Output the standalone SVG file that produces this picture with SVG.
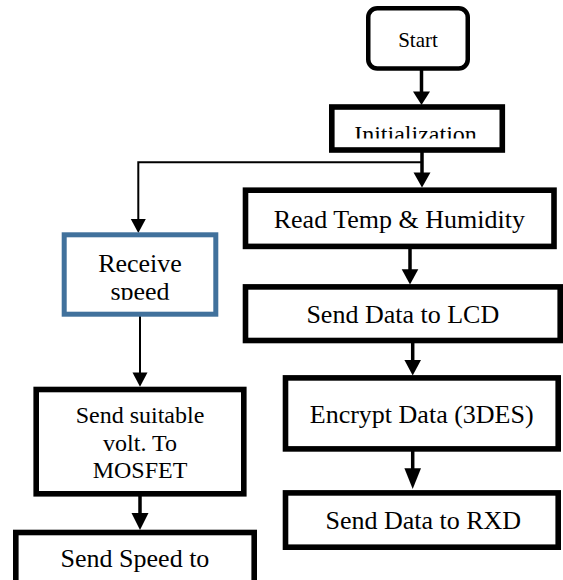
<svg xmlns="http://www.w3.org/2000/svg" width="563" height="580" viewBox="0 0 563 580">
  <style>
    .box { fill: #ffffff; stroke: #000000; stroke-width: 5.6; }
    .round { fill: #ffffff; stroke: #000000; stroke-width: 4.5; }
    .blue { fill: #ffffff; stroke: #41719C; stroke-width: 5; }
    .lbl { font-family: "Liberation Serif", "Times New Roman", serif; font-size: 26px; fill: #000000; text-anchor: middle; }
    .small { font-size: 24px; }
    .start { font-size: 21px; }
    .thick { fill: none; stroke: #000000; stroke-width: 3.5; }
    .thin { fill: none; stroke: #000000; stroke-width: 2; }
    .head { fill: #000000; stroke: none; }
  </style>
  <defs>
    <clipPath id="clipInit"><rect x="331" y="108" width="172" height="30.5"/></clipPath>
    <clipPath id="clipRecv"><rect x="64" y="235" width="152" height="64.7"/></clipPath>
  </defs>

  <!-- connectors -->
  <g id="connectors">
    <line class="thick" x1="421.5" y1="70" x2="421.5" y2="92"/>
    <polygon class="head" points="413,91.5 430,91.5 421.5,105"/>

    <line class="thick" x1="422" y1="152" x2="422" y2="173"/>
    <polygon class="head" points="413.5,172.5 430.5,172.5 422,187.5"/>

    <polyline class="thin" points="422,162.3 138.3,162.3 138.3,220"/>
    <polygon class="head" points="130.8,219 145.8,219 138.3,233"/>

    <line class="thick" x1="410" y1="249" x2="410" y2="270"/>
    <polygon class="head" points="401.7,269.3 418.3,269.3 410,284.5"/>

    <line class="thick" x1="412.7" y1="343" x2="412.7" y2="361"/>
    <polygon class="head" points="404.4,360 421,360 412.7,375.5"/>

    <line class="thick" x1="412.7" y1="451" x2="412.7" y2="469"/>
    <polygon class="head" points="404.4,468.3 421,468.3 412.7,489"/>

    <line class="thin" x1="140" y1="316" x2="140" y2="373"/>
    <polygon class="head" points="132.5,372.5 147.5,372.5 140,386.7"/>

    <line class="thick" x1="140" y1="496" x2="140" y2="514"/>
    <polygon class="head" points="131.5,513 148.5,513 140,530"/>
  </g>

  <!-- start terminal -->
  <g id="start">
    <rect class="round" x="368.25" y="8.25" width="99.5" height="60.2" rx="9" ry="9"/>
    <text class="lbl start" x="418" y="46.5">Start</text>
  </g>

  <!-- initialisation -->
  <g id="init">
    <rect class="box" x="331.8" y="107" width="170.5" height="43"/>
    <text class="lbl small" x="415.5" y="141.5" clip-path="url(#clipInit)">Initialization</text>
  </g>

  <!-- sensor branch -->
  <g id="readTemp">
    <rect class="box" x="245.5" y="190.2" width="308.5" height="56.2"/>
    <text class="lbl" x="399.3" y="228.3">Read Temp &amp; Humidity</text>
  </g>

  <g id="sendLcd">
    <rect class="box" x="245.5" y="286.9" width="314.7" height="53.6"/>
    <text class="lbl" x="402.8" y="322.7">Send Data to LCD</text>
  </g>

  <g id="encrypt">
    <rect class="box" x="285.5" y="377.9" width="272.7" height="71"/>
    <text class="lbl" x="421.7" y="423.3">Encrypt Data (3DES)</text>
  </g>

  <g id="sendRxd">
    <rect class="box" x="285.5" y="492.9" width="272.7" height="54.3"/>
    <text class="lbl" x="423.3" y="529.3">Send Data to RXD</text>
  </g>

  <!-- motor branch -->
  <g id="receive">
    <rect class="blue" x="64.2" y="234.8" width="151.6" height="79.4"/>
    <g clip-path="url(#clipRecv)">
      <text class="lbl" x="140" y="271.7">Receive</text>
      <text class="lbl" x="140" y="300">speed</text>
    </g>
  </g>

  <g id="mosfet">
    <rect class="box" x="36.2" y="389.5" width="207.6" height="104.3"/>
    <text class="lbl small" x="140" y="423.3">Send suitable</text>
    <text class="lbl small" x="140" y="450.7">volt. To</text>
    <text class="lbl small" x="140" y="478.3">MOSFET</text>
  </g>

  <g id="sendSpeed">
    <rect class="box" x="15.8" y="532.5" width="238.4" height="60"/>
    <text class="lbl" x="135" y="567">Send Speed to</text>
  </g>
</svg>
